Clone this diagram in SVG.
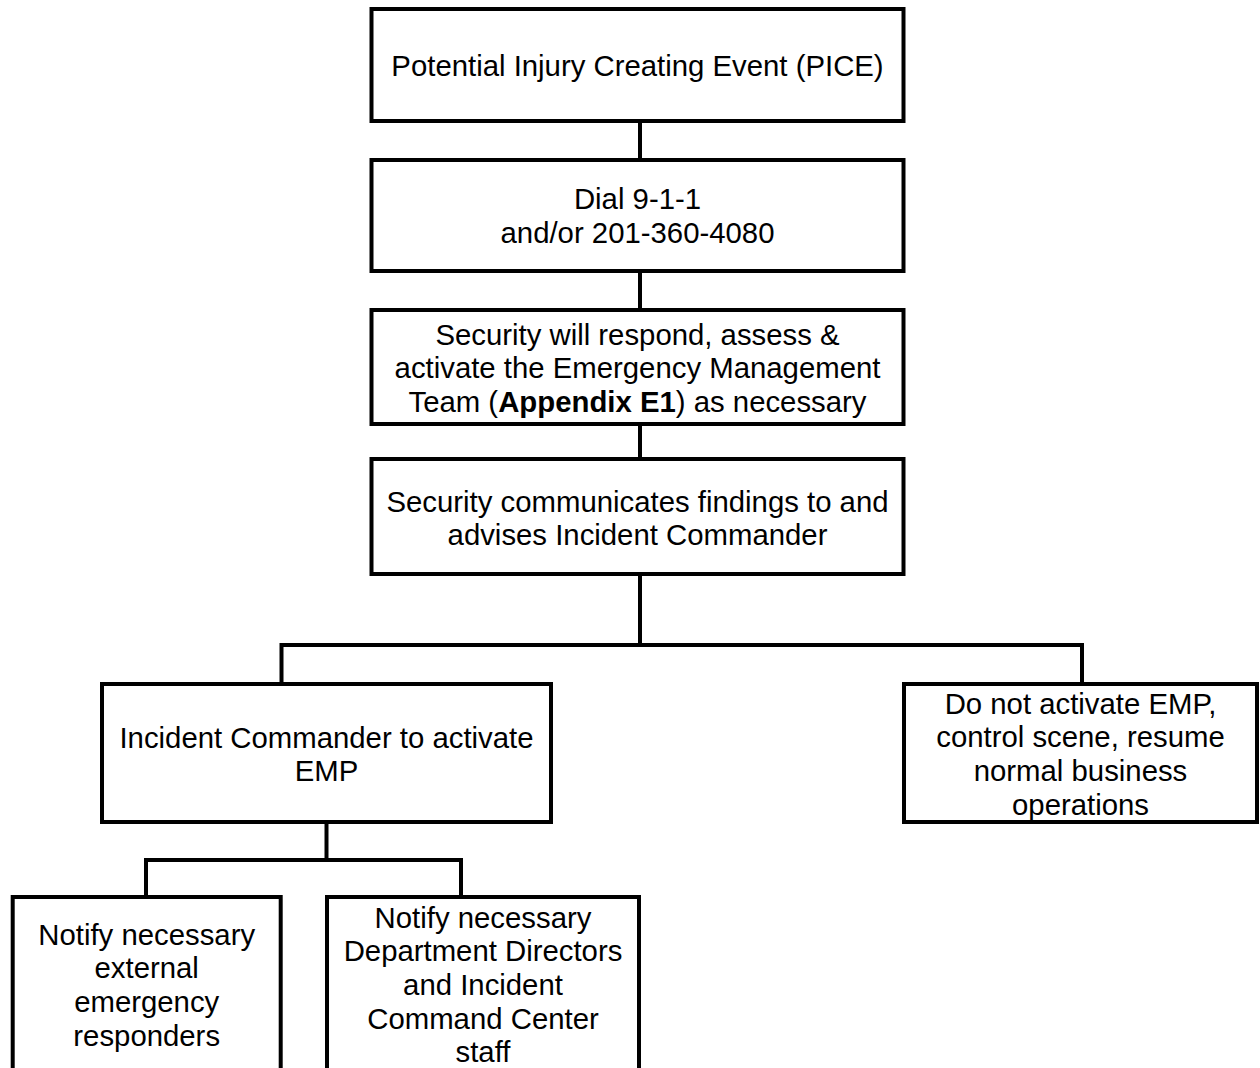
<svg xmlns="http://www.w3.org/2000/svg" width="1260" height="1068" viewBox="0 0 1260 1068">
  <style>
    .box { fill: #ffffff; stroke: #000000; stroke-width: 4; }
    .link { fill: none; stroke: #000000; stroke-width: 4; stroke-linejoin: miter; }
    .label { font-family: "Liberation Sans", Arial, sans-serif; font-size: 29.33px; fill: #000000; text-anchor: middle; }
    .strong { font-weight: bold; }
  </style>
  <rect width="1260" height="1068" fill="#ffffff"/>

  <!-- connectors between steps -->
  <g id="connectors">
    <path class="link" d="M640 121 V160"/>
    <path class="link" d="M640 271 V310"/>
    <path class="link" d="M640 424 V459"/>
    <path class="link" d="M640 574 V645"/>
    <path class="link" d="M281.5 683 V645 H1082 V683"/>
    <path class="link" d="M326.5 822 V860"/>
    <path class="link" d="M146 897 V860 H461 V897"/>
  </g>

  <g id="pice">
    <rect class="box" x="371.5" y="9" width="532" height="112"/>
    <text class="label" x="637.5" y="76">Potential Injury Creating Event (PICE)</text>
  </g>

  <g id="dial">
    <rect class="box" x="371.5" y="160" width="532" height="111"/>
    <text class="label" x="637.5" y="209">Dial 9-1-1</text>
    <text class="label" x="637.5" y="243">and/or 201-360-4080</text>
  </g>

  <g id="security-respond">
    <rect class="box" x="371.5" y="310" width="532" height="114"/>
    <text class="label" x="637.5" y="344.5">Security will respond, assess &amp;</text>
    <text class="label" x="637.5" y="378">activate the Emergency Management</text>
    <text class="label" x="637.5" y="411.5">Team (<tspan class="strong">Appendix E1</tspan>) as necessary</text>
  </g>

  <g id="security-advise">
    <rect class="box" x="371.5" y="459" width="532" height="115"/>
    <text class="label" x="637.5" y="511.5">Security communicates findings to and</text>
    <text class="label" x="637.5" y="545">advises Incident Commander</text>
  </g>

  <g id="activate-emp">
    <rect class="box" x="102" y="684" width="449" height="138"/>
    <text class="label" x="326.5" y="747.5">Incident Commander to activate</text>
    <text class="label" x="326.5" y="781">EMP</text>
  </g>

  <g id="do-not-activate">
    <rect class="box" x="904" y="684" width="353" height="138"/>
    <text class="label" x="1080.5" y="713.5">Do not activate EMP,</text>
    <text class="label" x="1080.5" y="747">control scene, resume</text>
    <text class="label" x="1080.5" y="781">normal business</text>
    <text class="label" x="1080.5" y="814.5">operations</text>
  </g>

  <g id="notify-external">
    <rect class="box" x="12.7" y="897" width="268" height="200"/>
    <text class="label" x="146.7" y="944.5">Notify necessary</text>
    <text class="label" x="146.7" y="978">external</text>
    <text class="label" x="146.7" y="1012">emergency</text>
    <text class="label" x="146.7" y="1045.5">responders</text>
  </g>

  <g id="notify-directors">
    <rect class="box" x="327" y="897" width="312" height="200"/>
    <text class="label" x="483" y="927.5">Notify necessary</text>
    <text class="label" x="483" y="961">Department Directors</text>
    <text class="label" x="483" y="995">and Incident</text>
    <text class="label" x="483" y="1028.5">Command Center</text>
    <text class="label" x="483" y="1062">staff</text>
  </g>
</svg>
